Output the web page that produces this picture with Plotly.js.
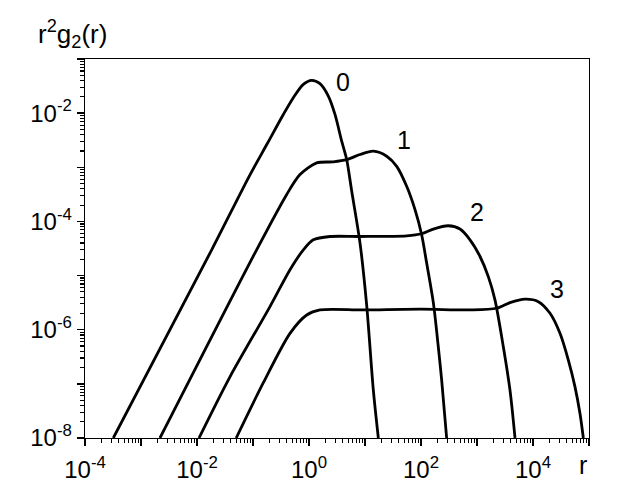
<!DOCTYPE html>
<html>
<head>
<meta charset="utf-8">
<script src="https://cdn.plot.ly/plotly-3.0.1.min.js"></script>
<style>
  html, body { margin: 0; padding: 0; background: #fff; }
  #chart { width: 623px; height: 504px; }
</style>
</head>
<body>
<div id="chart"></div>
<script>
'use strict';

/* curve labels */
const orders = ['0', '1', '2', '3'];

/* r and r^2 g2(r) for each order */
const r0 = [3.20e-4, 1.83e-2, 8.83e-2, 0.176, 0.348, 0.525, 0.791, 1.117, 1.570, 2.213, 2.911, 3.837, 4.710, 5.794, 8.147, 10.72, 14.09, 17.30];
const g0 = [1e-8, 2.99e-5, 7.24e-4, 2.63e-3, 9.46e-3, 1.93e-2, 3.40e-2, 4.04e-2, 3.50e-2, 2.07e-2, 9.46e-3, 3.03e-3, 1.39e-3, 3.60e-4, 3.98e-5, 2.82e-6, 7.64e-8, 1e-8];

const r1 = [2.18e-3, 0.116, 0.398, 0.690, 1.371, 2.716, 4.71, 8.147, 14.09, 24.38, 36.81, 55.46, 78.16, 102.8, 126.2, 166.0, 203.7, 233.9, 287.1];
const g1 = [1e-8, 2.99e-5, 3.12e-4, 7.33e-4, 1.205e-3, 1.26e-3, 1.38e-3, 1.72e-3, 1.98e-3, 1.60e-3, 1.04e-3, 4.45e-4, 1.65e-4, 5.68e-5, 1.70e-5, 3.16e-6, 4.84e-7, 1.17e-7, 1e-8];

const r2 = [1.086e-2, 3.88e-2, 0.201, 0.458, 0.793, 1.194, 2.371, 8.147, 55.46, 102.8, 166.0, 307.6, 496.6, 749.9, 1132, 1592, 2094, 2951, 3882, 4775];
const g2 = [1e-8, 1.35e-7, 2.67e-6, 1.28e-5, 2.99e-5, 4.58e-5, 5.27e-5, 5.27e-5, 5.43e-5, 5.92e-5, 7.23e-5, 8.32e-5, 7.23e-5, 4.58e-5, 2.25e-5, 9.57e-6, 3.55e-6, 4.84e-7, 7.64e-8, 1e-8];

const r3 = [5.01e-2, 0.153, 0.458, 0.910, 1.570, 9.33, 100, 750, 2244, 3882, 7194, 12450, 20140, 30340, 42760, 56230, 69020, 79250];
const g3 = [1e-8, 1.05e-7, 8.57e-7, 1.87e-6, 2.32e-6, 2.32e-6, 2.40e-6, 2.32e-6, 2.49e-6, 3.16e-6, 3.66e-6, 3.30e-6, 2.01e-6, 8.57e-7, 2.75e-7, 8.79e-8, 2.83e-8, 1e-8];

/* label anchors (log10 r, log10 y) */
const labelAt = [[0.60, -1.42], [1.70, -2.50], [3.00, -3.83], [4.42, -5.25]];

const FONT = 'Liberation Sans, Arial, Helvetica, sans-serif';

function decadeTicks(lo, hi) {
  const vals = [];
  const text = [];
  for (let d = lo; d <= hi; d++) {
    vals.push(Math.pow(10, d));
    text.push(d % 2 === 0 ? '10<sup>' + d + '</sup>' : '');
  }
  return {vals, text};
}

function minorTicks(lo, hi) {
  const vals = [];
  for (let d = lo; d < hi; d++) {
    for (let k = 2; k <= 9; k++) {
      vals.push(k * Math.pow(10, d));
    }
  }
  return vals;
}

const xt = decadeTicks(-4, 5);
const yt = decadeTicks(-8, -1);

const series = [[r0, g0], [r1, g1], [r2, g2], [r3, g3]];
const data = series.map(([x, y], i) => ({
  x: x,
  y: y,
  type: 'scatter',
  mode: 'lines',
  name: orders[i],
  line: {color: '#000', width: 2.8, shape: 'spline', smoothing: 0.8},
  hoverinfo: 'skip'
}));

const axisCommon = {
  type: 'log',
  showgrid: false,
  zeroline: false,
  showline: true,
  linecolor: '#000',
  linewidth: 1.4,
  mirror: true,
  ticks: 'outside',
  ticklen: 7,
  tickwidth: 1.4,
  tickcolor: '#000',
  tickmode: 'array',
  tickfont: {family: FONT, size: 24, color: '#000'}
};

const layout = {
  width: 623,
  height: 504,
  margin: {l: 85, r: 34, t: 59, b: 66},
  paper_bgcolor: '#fff',
  plot_bgcolor: '#fff',
  showlegend: false,
  xaxis: Object.assign({}, axisCommon, {
    range: [-4, 5],
    tickvals: xt.vals,
    ticktext: xt.text,
    ticklabelstandoff: 3,
    minor: {tickmode: 'array', tickvals: minorTicks(-4, 5), ticks: 'outside', ticklen: 4, tickwidth: 1.2, tickcolor: '#000'}
  }),
  yaxis: Object.assign({}, axisCommon, {
    range: [-8, -1],
    tickvals: yt.vals,
    ticktext: yt.text,
    minor: {tickmode: 'array', tickvals: minorTicks(-8, -1), ticks: 'outside', ticklen: 4, tickwidth: 1.2, tickcolor: '#000'}
  }),
  annotations: orders.map((name, i) => ({
    x: labelAt[i][0],
    y: labelAt[i][1],
    xref: 'x',
    yref: 'y',
    text: name,
    showarrow: false,
    font: {family: FONT, size: 25, color: '#000'}
  })).concat([
    {
      xref: 'paper', yref: 'paper', x: 0.988, y: -0.07,
      xanchor: 'center', yanchor: 'middle',
      text: 'r', showarrow: false,
      font: {family: FONT, size: 25, color: '#000'}
    },
    {
      xref: 'paper', yref: 'paper', x: -0.097, y: 1.065,
      xanchor: 'left', yanchor: 'middle',
      text: 'r<sup>2</sup>g<sub>2</sub>(r)', showarrow: false,
      font: {family: FONT, size: 26, color: '#000'}
    }
  ])
};

Plotly.newPlot('chart', data, layout, {staticPlot: true, displayModeBar: false});
</script>
</body>
</html>
